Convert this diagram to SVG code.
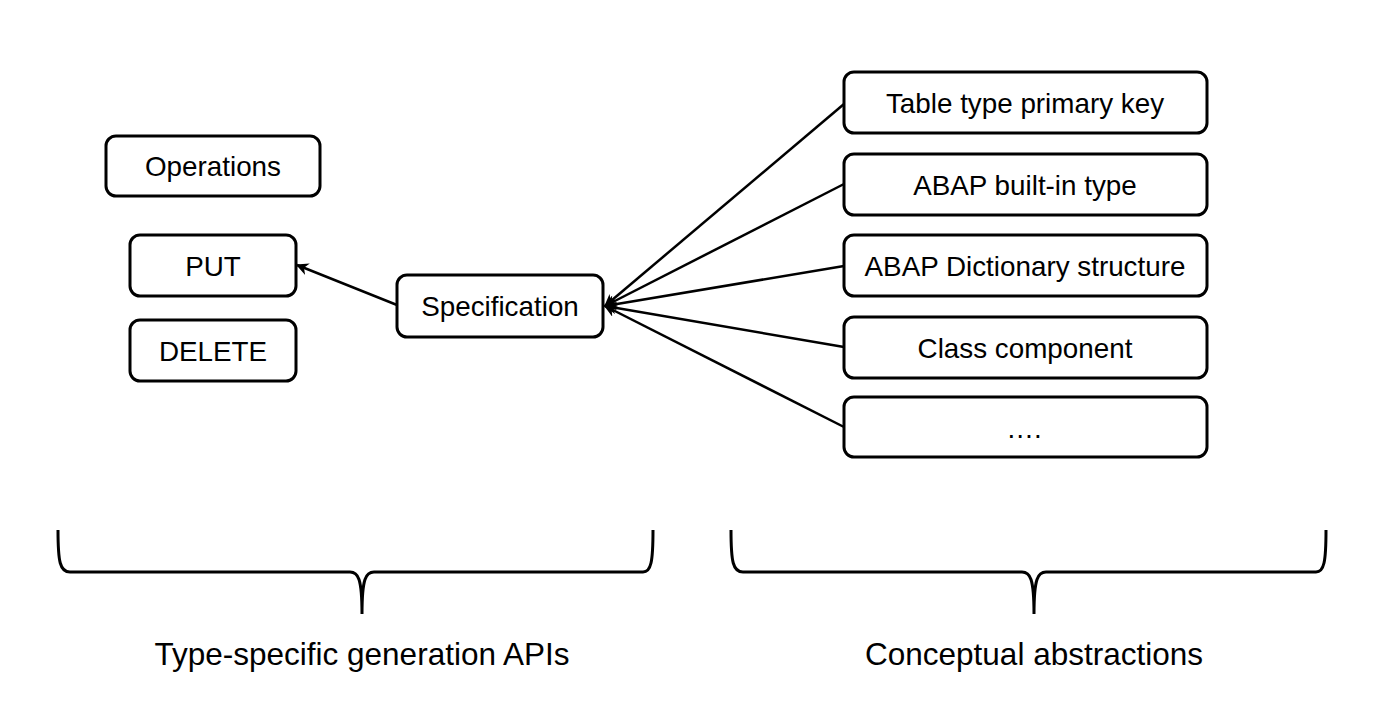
<svg xmlns="http://www.w3.org/2000/svg" width="1384" height="724" viewBox="0 0 1384 724">
<style>
.box{fill:#fff;stroke:#000;stroke-width:3}
.lbl{font-family:"Liberation Sans",Arial,sans-serif;font-size:27.8px;fill:#000;text-anchor:middle}
.big{font-family:"Liberation Sans",Arial,sans-serif;font-size:31.5px;fill:#000;text-anchor:middle}
.edge{stroke:#000;stroke-width:2.5;fill:none;marker-end:url(#arr)}
.brace{stroke:#000;stroke-width:3;fill:none}
</style>
<defs>
<marker id="arr" viewBox="0 0 10 10" refX="9" refY="5" markerWidth="5" markerHeight="5" orient="auto" markerUnits="strokeWidth">
<path d="M0,0 L10,5 L0,10 L3,5 z" fill="#000"/>
</marker>
</defs>
<rect width="1384" height="724" fill="#fff"/>
<g id="connectors">
<line class="edge" x1="397" y1="305" x2="297" y2="265"/>
<line class="edge" x1="844" y1="104" x2="605" y2="306"/>
<line class="edge" x1="844" y1="184" x2="605" y2="306"/>
<line class="edge" x1="844" y1="266" x2="605" y2="306"/>
<line class="edge" x1="844" y1="347" x2="605" y2="306"/>
<line class="edge" x1="844" y1="427" x2="605" y2="306"/>
</g>
<g id="operations"><rect class="box" x="106" y="136" width="214" height="60" rx="10"/><text class="lbl" x="213" y="176">Operations</text></g>
<g id="put"><rect class="box" x="130" y="235" width="166" height="61" rx="10"/><text class="lbl" x="213" y="276">PUT</text></g>
<g id="delete"><rect class="box" x="130" y="320" width="166" height="61" rx="10"/><text class="lbl" x="213" y="361">DELETE</text></g>
<g id="specification"><rect class="box" x="397" y="275" width="206" height="62" rx="10"/><text class="lbl" x="500" y="316">Specification</text></g>
<g id="table-type"><rect class="box" x="844" y="72" width="363" height="61" rx="10"/><text class="lbl" x="1025" y="113">Table type primary key</text></g>
<g id="builtin"><rect class="box" x="844" y="154" width="363" height="61" rx="10"/><text class="lbl" x="1025" y="195">ABAP built-in type</text></g>
<g id="dictionary"><rect class="box" x="844" y="235" width="363" height="61" rx="10"/><text class="lbl" x="1025" y="276">ABAP Dictionary structure</text></g>
<g id="class-component"><rect class="box" x="844" y="317" width="363" height="61" rx="10"/><text class="lbl" x="1025" y="358">Class component</text></g>
<g id="more"><rect class="box" x="844" y="397" width="363" height="60" rx="10"/><text class="lbl" x="1024" y="438">….</text></g>
<g id="brace-left">
<path class="brace" d="M58,530 C58,562 60,572 70,572 L350,572 C358,572 362,578 362,614 C362,578 366,572 374,572 L643,572 C651,572 653,562 653,530"/>
<text class="big" x="362" y="665">Type-specific generation APIs</text>
</g>
<g id="brace-right">
<path class="brace" d="M731,530 C731,562 733,572 743,572 L1022,572 C1030,572 1034,578 1034,614 C1034,578 1038,572 1046,572 L1316,572 C1324,572 1326,562 1326,530"/>
<text class="big" x="1034" y="665">Conceptual abstractions</text>
</g>
</svg>
